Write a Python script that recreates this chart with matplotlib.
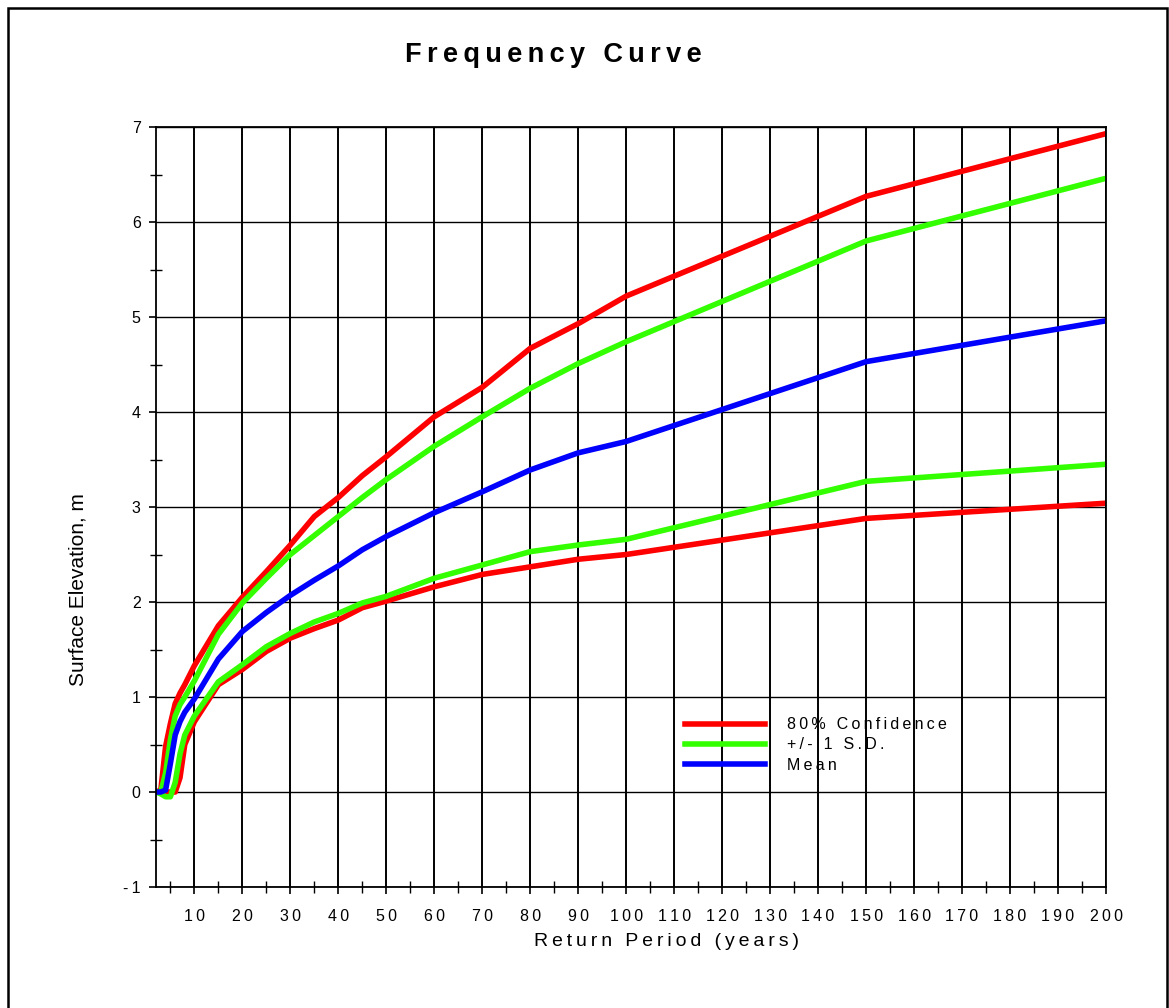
import matplotlib
matplotlib.use('Agg')
import matplotlib.pyplot as plt
from matplotlib.patches import Rectangle
from matplotlib.ticker import MultipleLocator

plt.rcParams['font.family'] = ['Liberation Sans', 'DejaVu Sans']

# return period (years) and surface elevation (m) for each curve
period = [2, 3, 4, 5, 6, 7, 8, 10, 15, 20, 25, 30, 35, 40, 45, 50,
          60, 70, 80, 90, 100, 150, 200]
conf_upper = [0, 0.02, 0.48, 0.72, 0.93, 1.04, 1.13, 1.33, 1.75, 2.05, 2.32, 2.60,
              2.90, 3.10, 3.33, 3.53, 3.95, 4.26, 4.67, 4.93, 5.22, 6.27, 6.93]
sd_upper = [0, 0.0, 0.2, 0.55, 0.8, 0.92, 1.0, 1.17, 1.66, 1.99, 2.25, 2.50,
            2.70, 2.90, 3.10, 3.29, 3.64, 3.95, 4.25, 4.51, 4.74, 5.80, 6.46]
mean = [0, 0, 0.02, 0.3, 0.6, 0.74, 0.84, 0.98, 1.40, 1.69, 1.89, 2.07,
        2.23, 2.38, 2.55, 2.69, 2.94, 3.16, 3.39, 3.57, 3.69, 4.53, 4.96]
sd_lower = [0, -0.02, -0.05, -0.05, 0.1, 0.4, 0.6, 0.80, 1.16, 1.34, 1.53, 1.67,
            1.79, 1.88, 1.99, 2.06, 2.25, 2.39, 2.53, 2.60, 2.66, 3.27, 3.45]
conf_lower = [0, 0, 0, 0, 0, 0.15, 0.5, 0.74, 1.13, 1.29, 1.48, 1.62,
              1.72, 1.81, 1.94, 2.01, 2.16, 2.29, 2.37, 2.45, 2.50, 2.88, 3.04]

labels = ['80% Confidence', '+/- 1 S.D.', 'Mean']
x_ticks = list(range(10, 201, 10))
y_ticks = list(range(-1, 8))

RED = '#ff0000'
GREEN = '#33ff00'
BLUE = '#0000ff'


def spaced(s):
    # widen letter spacing a little
    return '\u2009'.join(s)


fig = plt.figure(figsize=(11.69, 10.08), dpi=100)
ax = fig.add_axes([156 / 1169, 1 - 887 / 1008, 950 / 1169, 760 / 1008])

ax.plot(period, conf_upper, color=RED, lw=4, label=spaced(labels[0]))
ax.plot(period, conf_lower, color=RED, lw=4)
ax.plot(period, sd_upper, color=GREEN, lw=4, label=spaced(labels[1]))
ax.plot(period, sd_lower, color=GREEN, lw=4)
ax.plot(period, mean, color=BLUE, lw=4, label=spaced(labels[2]))

ax.set_xlim(2, 200)
ax.set_ylim(-1, 7)

ax.set_xticks(x_ticks)
ax.set_xticklabels([spaced(str(v)) for v in x_ticks])
ax.xaxis.set_minor_locator(MultipleLocator(10, offset=5))
ax.set_yticks(y_ticks)
ax.set_yticklabels([spaced(str(v)) for v in y_ticks])
ax.yaxis.set_minor_locator(MultipleLocator(0.5))

ax.tick_params(which='major', direction='out', length=5, width=1.2,
               labelsize=11.5, color='black')
ax.tick_params(axis='x', which='major', pad=11)
ax.tick_params(axis='y', which='major', pad=6)
ax.tick_params(which='minor', direction='inout', length=9, width=1.0)

ax.grid(which='major', axis='x', color='black', lw=1.4)
ax.grid(which='major', axis='y', color='black', lw=1.0)
ax.set_axisbelow(True)
for side in ax.spines.values():
    side.set_linewidth(1.3)

ax.legend(loc='upper left', bbox_to_anchor=(0.545, 0.238), frameon=False,
          fontsize=11.5, handlelength=5.0, handletextpad=1.4,
          labelspacing=0.32, borderpad=0.2)

fig.text(553 / 1169, 1 - 55 / 1008, spaced('Frequency Curve'),
         ha='center', va='center', fontsize=19.5, fontweight='bold')
fig.text(666 / 1169, 1 - 942 / 1008, spaced('Return Period (years)'),
         ha='center', va='center', fontsize=14)
fig.text(78 / 1169, 1 - 590 / 1008, 'Surface Elevation, m',
         ha='center', va='center', rotation=90, fontsize=15)

# outer frame
fig.patches.append(Rectangle((8 / 1169, -0.01), 1159 / 1169, 1 - 8 / 1008 + 0.01,
                             transform=fig.transFigure, fill=False,
                             edgecolor='black', lw=1.8))

fig.savefig('out.png', dpi=100)
